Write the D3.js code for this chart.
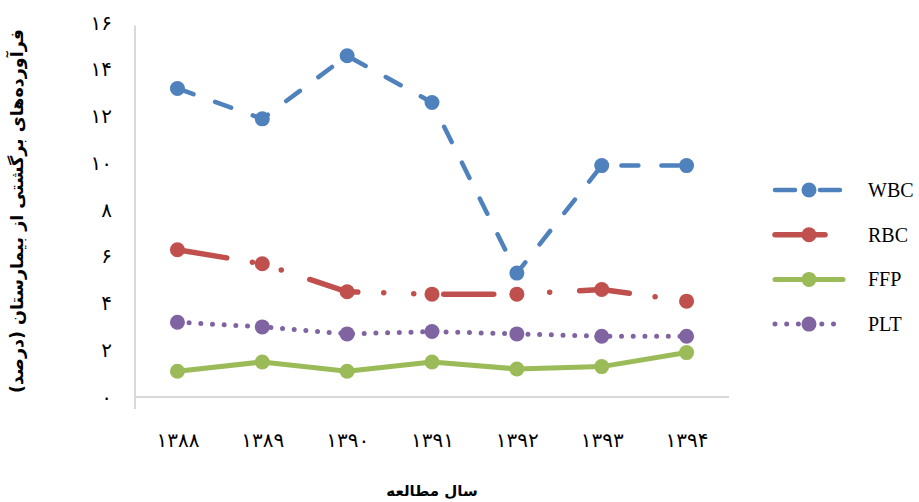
<!DOCTYPE html>
<html>
<head>
<meta charset="utf-8">
<script src="https://cdn.jsdelivr.net/npm/d3@7"></script>
<style>
  body { margin: 0; background: #fff; }
  svg { display: block; }
</style>
</head>
<body>
<div id="chart"></div>
<script>
const years = [1388, 1389, 1390, 1391, 1392, 1393, 1394]
const yTicks = [0, 2, 4, 6, 8, 10, 12, 14, 16]
const seriesNames = ["WBC", "RBC", "FFP", "PLT"]
const wbc = [13.2, 11.9, 14.6, 12.6, 5.3, 9.9, 9.9]
const rbc = [6.3, 5.7, 4.5, 4.4, 4.4, 4.6, 4.1]
const ffp = [1.1, 1.5, 1.1, 1.5, 1.2, 1.3, 1.9]
const plt = [3.2, 3.0, 2.7, 2.8, 2.7, 2.6, 2.6]

const yTitle = "فرآورده‌های برگشتی از بیمارستان (درصد)"
const xTitle = "سال مطالعه"

const width = 919
const height = 502
const faFont = "'DejaVu Sans', sans-serif"

// line look per series, like the excel defaults
const styles = {
    WBC: {values: wbc, color: "#4f81bd", width: 4.5, dash: "17,23", legendDash: "20,25"},
    RBC: {values: rbc, color: "#c0504d", width: 5.5, dash: "50,26,0,30,0,30", legendDash: "50,26,0,30,0,30"},
    FFP: {values: ffp, color: "#9bbb59", width: 5, dash: null, legendDash: null},
    PLT: {values: plt, color: "#8064a2", width: 5, dash: "0,11.7", legendDash: "0,11.7"}
}

const faDigits = "۰۱۲۳۴۵۶۷۸۹"
function fa(n){
    return String(n).replace(/\d/g, d => faDigits[d])
}

const x = d3.scalePoint()
.domain(years)
.range([135, 729])
.padding(0.5)

const y = d3.scaleLinear()
.domain([0, 16])
.range([397, 23])

const svg = d3.select("#chart")
.append("svg")
.attr("width", width)
.attr("height", height)

// axis lines
svg.append("line")
.attr("x1", 135).attr("x2", 135)
.attr("y1", y(16) + 2.5).attr("y2", y(0) + 12)
.style("stroke", "#d9d9d9")
.style("stroke-width", 2)

svg.append("line")
.attr("x1", 135).attr("x2", 729)
.attr("y1", y(0)).attr("y2", y(0))
.style("stroke", "#d9d9d9")
.style("stroke-width", 2)

// y tick labels
const yAxis = svg.append("g")
.attr("transform", "translate(135,0)")
.call(d3.axisLeft(y).tickValues(yTicks).tickSize(0).tickPadding(23).tickFormat(fa))
yAxis.select(".domain").remove()
yAxis.selectAll("text")
.attr("dy", "0.3em")
.style("font-family", faFont)
.style("font-size", "20px")
.style("letter-spacing", "1px")
.style("fill", "#000")

// x tick labels
const xAxis = svg.append("g")
.attr("transform", "translate(0," + y(0) + ")")
.call(d3.axisBottom(x).tickSize(0).tickPadding(36).tickFormat(fa))
xAxis.select(".domain").remove()
xAxis.selectAll("text")
.style("font-family", faFont)
.style("font-size", "20px")
.style("letter-spacing", "2px")
.style("fill", "#000")

// titles
svg.append("text")
.attr("transform", "translate(23,211) rotate(-90)")
.attr("text-anchor", "middle")
.style("font-family", faFont)
.style("font-weight", "bold")
.style("font-size", "17.5px")
.text(yTitle)

svg.append("text")
.attr("x", 432)
.attr("y", 496)
.attr("text-anchor", "middle")
.style("font-family", faFont)
.style("font-weight", "bold")
.style("font-size", "15px")
.text(xTitle)

// series
const line = d3.line()
.x((d, i) => x(years[i]))
.y(d => y(d))

seriesNames.forEach(name => {
    const s = styles[name]
    const g = svg.append("g").attr("class", "series")

    g.append("path")
    .datum(s.values)
    .attr("d", line)
    .style("fill", "none")
    .style("stroke", s.color)
    .style("stroke-width", s.width)
    .style("stroke-linecap", "round")
    .style("stroke-linejoin", "round")
    .style("stroke-dasharray", s.dash)

    g.selectAll("circle")
    .data(s.values)
    .join("circle")
    .attr("cx", (d, i) => x(years[i]))
    .attr("cy", d => y(d))
    .attr("r", 7.5)
    .style("fill", s.color)
})

// legend
const legend = svg.append("g")
.selectAll("g")
.data(seriesNames)
.join("g")
.attr("transform", (d, i) => "translate(775," + (190 + i * 44.7) + ")")

legend.append("line")
.attr("x1", 0)
.attr("x2", d => d == "RBC" ? 60 : d == "PLT" ? 61 : 68)
.style("stroke", d => styles[d].color)
.style("stroke-width", d => styles[d].width)
.style("stroke-linecap", "round")
.style("stroke-dasharray", d => styles[d].legendDash)

legend.append("circle")
.attr("cx", 34)
.attr("r", 7.5)
.style("fill", d => styles[d].color)

legend.append("text")
.attr("x", 93)
.attr("dy", "0.35em")
.style("font-family", "'Liberation Serif', serif")
.style("font-size", "20px")
.style("fill", "#000")
.text(d => d)
</script>
</body>
</html>
